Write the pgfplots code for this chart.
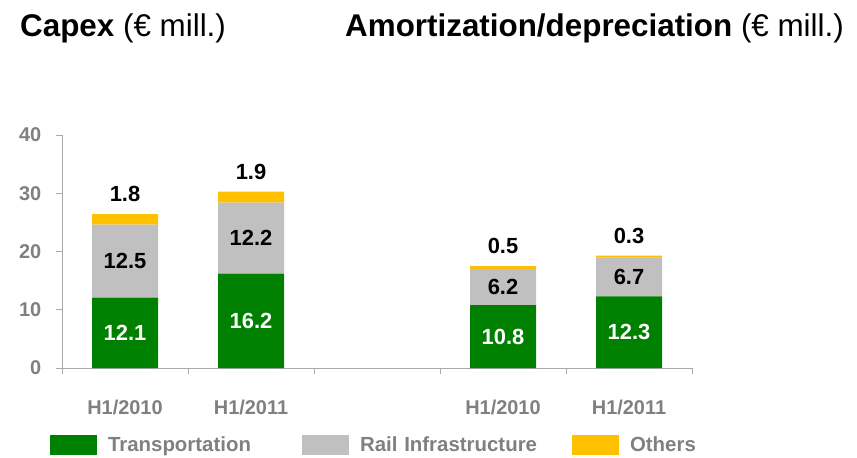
\documentclass[border=0pt]{standalone}
\usepackage{fontspec}
\setmainfont{Liberation Sans}
\usepackage{pgfplots}
\usepackage{pgfplotstable}
\pgfplotsset{compat=1.18}
\definecolor{cgreen}{RGB}{0,128,0}
\definecolor{cgray}{RGB}{192,192,192}
\definecolor{cyellow}{RGB}{255,192,0}
\definecolor{ctick}{RGB}{128,128,128}
\definecolor{caxis}{RGB}{170,170,170}
\pgfplotstableread{
x trans rail other
0 12.1 12.5 1.8
1 16.2 12.2 1.9
3 10.8 6.2 0.5
4 12.3 6.7 0.3
}\data
\pgfplotsset{mylegend/.style={legend image code/.code={\fill[##1] (0bp,-10bp) rectangle (47bp,10bp);}}}
\begin{document}
\begin{tikzpicture}
\path[use as bounding box] (-62bp,-90bp) rectangle (795bp,368bp);
\begin{axis}[
  at={(0,0)}, anchor=south west,
  x=126bp, y=5.825bp,
  xmin=-0.5, xmax=4.5, ymin=0, ymax=40,
  ybar stacked, bar width=66bp,
  axis x line*=bottom, axis y line*=left,
  axis line style={caxis, line width=0.8bp},
  tick style={caxis, line width=0.8bp},
  tick align=outside,
  major tick length=5.5bp,
  xtick={-0.5,0.5,1.5,2.5,3.5,4.5},
  x tick label as interval=true,
  xticklabels={H1/2010,H1/2011,,H1/2010,H1/2011},
  ytick={0,10,20,30,40},
  /pgf/number format/assume math mode=true,
  ticklabel style={font=\fontsize{20}{24}\selectfont\bfseries, text=ctick},
  xticklabel style={anchor=base, yshift=-41bp, inner sep=0pt},
  yticklabel style={anchor=east, inner sep=0pt, xshift=-15bp},
  visualization depends on={rawy \as \rawy},
  point meta=explicit symbolic,
  clip=false,
  legend columns=3,
  legend style={at={(axis description cs:-0.019,-0.3305)}, anchor=west,
    draw=none, fill=none, inner sep=0pt, outer sep=0pt,
    font=\fontsize{20.5}{24}\selectfont\bfseries, text=ctick,
    nodes={inner sep=0pt},
    /tikz/every odd column/.append style={column sep=11bp}},
]
\addplot[fill=cgreen, draw=none, mylegend, nodes near coords,
  every node near coord/.append style={anchor=center, text=white, font=\fontsize{22}{24}\selectfont\bfseries}]
  table[x=x, y=trans, meta=trans] {\data};
\addlegendentry[text width=194bp]{Transportation}
\addplot[fill=cgray, draw=none, mylegend, nodes near coords,
  every node near coord/.append style={anchor=center, text=black, font=\fontsize{22}{24}\selectfont\bfseries}]
  table[x=x, y=rail, meta=rail] {\data};
\addlegendentry[text width=212bp]{Rail Infrastructure}
\addplot[fill=cyellow, draw=none, mylegend, nodes near coords,
  every node near coord/.append style={anchor=south, inner sep=0pt, yshift=\rawy*2.9125bp+12bp, text=black, font=\fontsize{22}{24}\selectfont\bfseries}]
  table[x=x, y=other, meta=other] {\data};
\addlegendentry{Others}
\end{axis}
\node[anchor=base west, inner sep=0pt] at (-42bp,331bp) {\fontsize{31.5}{36}\selectfont\textbf{Capex} (€ mill.)};
\node[anchor=base west, inner sep=0pt] at (283bp,331bp) {\fontsize{31.5}{36}\selectfont\textbf{Amortization/depreciation} (€ mill.)};
\end{tikzpicture}
\end{document}
